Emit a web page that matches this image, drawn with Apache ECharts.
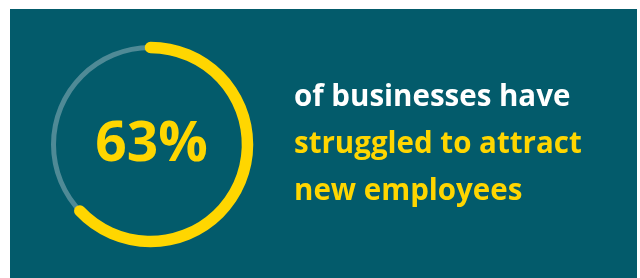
<!DOCTYPE html>
<html>
<head>
<meta charset="utf-8">
<script src="https://cdn.jsdelivr.net/npm/echarts@6/dist/echarts.min.js"></script>
<style>
  html, body { margin: 0; padding: 0; background: #fff; }
  #chart { width: 640px; height: 278px; }
</style>
</head>
<body>
<div id="chart"></div>
<script>
// share of businesses that struggled to attract new employees
var shareValue = 63;
var shareMax = 100;
var textLines = ['of businesses have', 'struggled to attract', 'new employees'];

var teal = '#035b6b',
    yellow = '#ffd600',
    trackColor = '#4f8a96';

var chart = echarts.init(document.getElementById('chart'));

var option = {
    backgroundColor: '#fff',
    graphic: [{
        type: 'rect',
        z: -10,
        shape: { x: 10, y: 9, width: 627, height: 269 },
        style: { fill: teal }
    }],
    title: {
        left: 294,
        top: 74,
        padding: 0,
        text: '{w|' + textLines[0] + '}\n{y|' + textLines[1] + '}\n{y|' + textLines[2] + '}',
        textStyle: {
            rich: {
                w: { color: '#fff', fontFamily: 'Open Sans', fontWeight: 'bold', fontSize: 29.5, lineHeight: 47 },
                y: { color: yellow, fontFamily: 'Open Sans', fontWeight: 'bold', fontSize: 29.5, lineHeight: 47 }
            }
        }
    },
    series: [{
        // background track
        type: 'gauge',
        center: [150.5, 144.5],
        radius: 99.5,
        startAngle: 90,
        endAngle: -270,
        min: 0,
        max: shareMax,
        axisLine: { lineStyle: { width: 5, color: [[1, trackColor]] } },
        axisTick: { show: false },
        splitLine: { show: false },
        axisLabel: { show: false },
        pointer: { show: false },
        detail: { show: false },
        title: { show: false },
        data: [{ value: 0 }],
        silent: true
    }, {
        type: 'gauge',
        center: [150.5, 144.5],
        radius: 102.75,
        startAngle: 90,
        endAngle: -270,
        min: 0,
        max: shareMax,
        progress: { show: true, width: 11.5, roundCap: true, itemStyle: { color: yellow } },
        axisLine: { show: false },
        axisTick: { show: false },
        splitLine: { show: false },
        axisLabel: { show: false },
        pointer: { show: false },
        title: { show: false },
        detail: {
            offsetCenter: [1, 1],
            formatter: '{value}%',
            color: yellow,
            fontFamily: 'Open Sans',
            fontWeight: 'bold',
            fontSize: 55
        },
        data: [{ value: shareValue }]
    }]
};

chart.setOption(option);
</script>
</body>
</html>
